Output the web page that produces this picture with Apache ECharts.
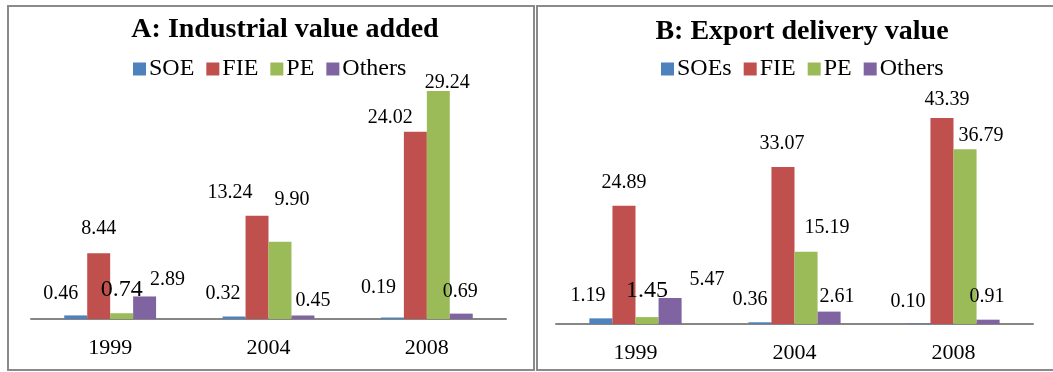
<!DOCTYPE html>
<html>
<head>
<meta charset="utf-8">
<script src="https://cdn.jsdelivr.net/npm/echarts@6/dist/echarts.min.js"></script>
<style>
  html, body { margin: 0; padding: 0; background: #fff; }
  #chart { width: 1053px; height: 372px; }
</style>
</head>
<body>
<div id="chart"></div>
<script>
// Share of total (%) by ownership type
const years = ['1999', '2004', '2008'];
const namesA = ['SOE', 'FIE', 'PE', 'Others'];
const namesB = ['SOEs', 'FIE', 'PE', 'Others'];

// A: Industrial value added
const soeA = [0.46, 0.32, 0.19];
const fieA = [8.44, 13.24, 24.02];
const peA = [0.74, 9.90, 29.24];
const othersA = [2.89, 0.45, 0.69];

// B: Export delivery value
const soeB = [1.19, 0.36, 0.10];
const fieB = [24.89, 33.07, 43.39];
const peB = [1.45, 15.19, 36.79];
const othersB = [5.47, 2.61, 0.91];

// Hand-placed label nudges [dx, dy] per series, per year
const nudgeA = [
  [[-15, -7], [-11, -8], [-14, -15]],
  [[0, -9], [-27, -8], [-25, 1]],
  [[0, -7], [12, -27], [9, 7]],
  [[23, -2], [10, 0], [-1, -7]]
];
const nudgeB = [
  [[-13, -8], [-10, -8], [-11, -7]],
  [[0, -8], [-1, -8], [5, -3]],
  [[0, -9], [21, -9], [16, 2]],
  [[37, -3], [8, 0], [-1, -8]]
];
// Labels drawn in a larger size (series index, year index)
const bigA = [[2, 0]];
const bigB = [[2, 0]];

const colors = ['#4F81BD', '#C0504D', '#9BBB59', '#8064A2'];
const serif = '"Liberation Serif", "Times New Roman", serif';

function buildSeries(names, values, nudge, big, gridIdx) {
  return names.map((name, s) => ({
    name: name,
    type: 'bar',
    xAxisIndex: gridIdx,
    yAxisIndex: gridIdx,
    barGap: '0%',
    barCategoryGap: '42%',
    itemStyle: { color: colors[s] },
    label: {
      show: true,
      position: 'top',
      distance: 5,
      color: '#000',
      fontFamily: serif,
      fontSize: 20,
      formatter: p => Number(p.value).toFixed(2)
    },
    data: values[s].map((v, i) => {
      const isBig = big.some(b => b[0] === s && b[1] === i);
      return {
        value: v,
        label: { offset: nudge[s][i], fontSize: isBig ? 24 : 20 }
      };
    })
  }));
}

const chart = echarts.init(document.getElementById('chart'), null, { renderer: 'canvas' });

const catAxis = (gridIndex) => ({
  type: 'category',
  gridIndex: gridIndex,
  data: years,
  axisLine: { show: true, lineStyle: { color: '#868686', width: 2 } },
  axisTick: { show: false },
  axisLabel: { color: '#000', fontFamily: serif, fontSize: 22, margin: 18 }
});
const valAxis = (gridIndex, max) => ({
  type: 'value',
  gridIndex: gridIndex,
  min: 0,
  max: max,
  show: false,
  splitLine: { show: false }
});

const legendStyle = {
  icon: 'rect', itemWidth: 13, itemHeight: 13, itemGap: 12,
  selectedMode: false,
  textStyle: { fontFamily: serif, fontSize: 24, color: '#000', padding: [0, 0, 0, -2] }
};

chart.setOption({
  animation: false,
  backgroundColor: '#fff',
  title: [
    {
      text: 'A: Industrial value added',
      left: 280, top: 11, textAlign: 'center',
      textStyle: { fontFamily: serif, fontWeight: 'bold', fontSize: 28, color: '#000' }
    },
    {
      text: 'B: Export delivery value',
      left: 797, top: 13, textAlign: 'center',
      textStyle: { fontFamily: serif, fontWeight: 'bold', fontSize: 28, color: '#000' }
    }
  ],
  legend: [
    Object.assign({ data: namesA, left: 128, top: 52 }, legendStyle),
    Object.assign({ data: namesB, left: 656, top: 52 }, legendStyle)
  ],
  grid: [
    { left: 31, width: 475, top: 46, bottom: 53 },
    { left: 556, width: 477, top: 86.5, bottom: 48 }
  ],
  xAxis: [catAxis(0), catAxis(1)],
  yAxis: [valAxis(0, 35), valAxis(1, 50)],
  graphic: [
    {
      type: 'rect', silent: true, z: 100,
      shape: { x: 8, y: 6, width: 526, height: 364 },
      style: { fill: 'none', stroke: '#8a8a8a', lineWidth: 2 }
    },
    {
      type: 'rect', silent: true, z: 100,
      shape: { x: 537, y: 6, width: 520, height: 364 },
      style: { fill: 'none', stroke: '#8a8a8a', lineWidth: 2 }
    }
  ],
  series: [
    ...buildSeries(namesA, [soeA, fieA, peA, othersA], nudgeA, bigA, 0),
    ...buildSeries(namesB, [soeB, fieB, peB, othersB], nudgeB, bigB, 1)
  ]
});
</script>
</body>
</html>
